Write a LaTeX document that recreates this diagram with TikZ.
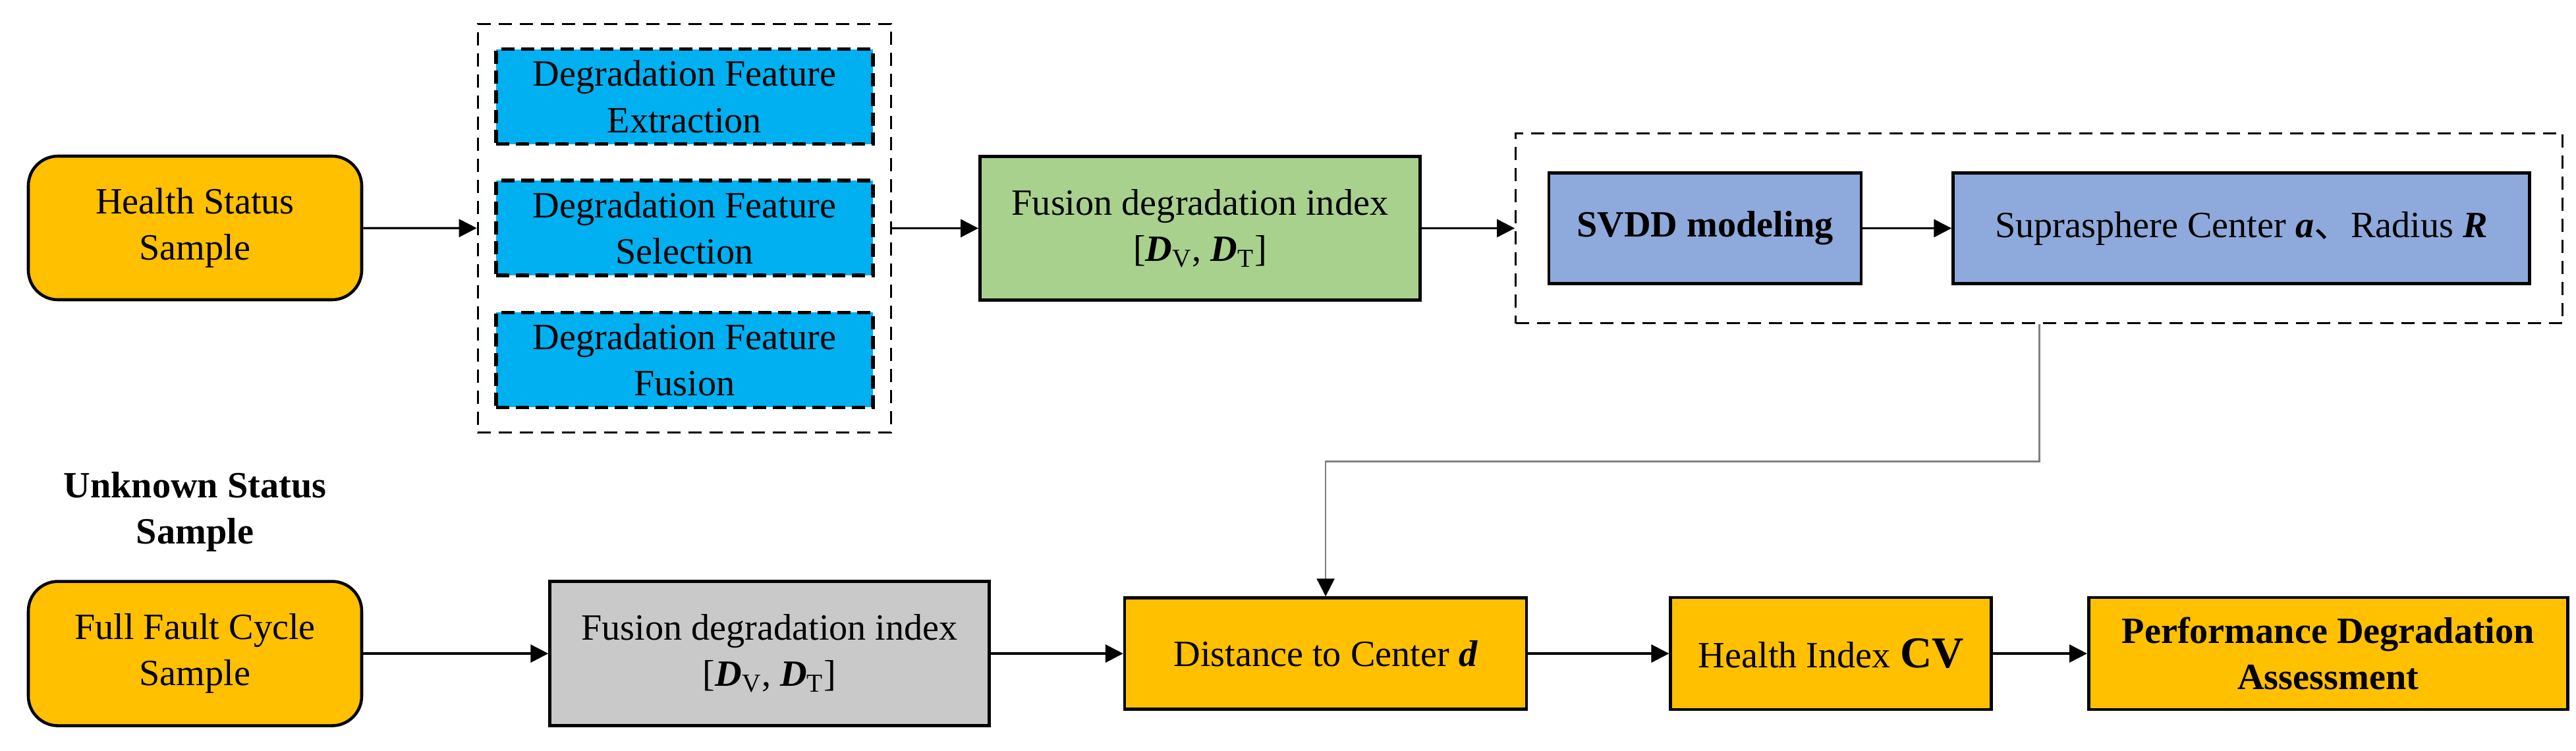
\documentclass[tikz,border=0pt]{standalone}
\usepackage{fontspec}
\setmainfont{Liberation Serif}
\newfontfamily\cjk{Noto Sans CJK SC}
\usetikzlibrary{positioning, fit, arrows.meta}
\definecolor{boxgold}{HTML}{FFC000}
\definecolor{boxcyan}{HTML}{00B0F0}
\definecolor{boxgreen}{HTML}{A9D18E}
\definecolor{boxblue}{HTML}{8EA9DB}
\definecolor{boxgray}{HTML}{C9C9C9}

\begin{document}
\begin{tikzpicture}[font=\fontsize{16}{20}\selectfont,
    rect/.style={rectangle, draw, line width=1.3pt, align=center, inner sep=0pt},
    rnd/.style={rect, rounded corners=0.45cm},
    featbox/.style={rect, dash pattern=on 0.2cm off 0.1cm, line width=1.5pt, fill=boxcyan, minimum width=5.72cm, minimum height=1.44cm},
    grp/.style={draw, line width=0.9pt, dash pattern=on 0.2cm off 0.12cm},
    arr/.style={draw, line width=0.9pt, -{Triangle[length=0.27cm, width=0.27cm]}},
    fb/.style={draw, line width=0.7pt, color=gray, -{Triangle[length=0.27cm, width=0.27cm, color=black]}}]

        \useasboundingbox (0,0) rectangle (39.10,11.39);

        % training branch
        \node[rnd, fill=boxgold, minimum width=5.06cm, minimum height=2.18cm] (health) at (2.96,7.93) {Health Status\\Sample};
        \node[featbox, right=1.99cm of health] (sel) {Degradation Feature\\Selection};
        \node[featbox, above=0.5cm of sel] (ext) {Degradation Feature\\Extraction};
        \node[featbox, below=0.51cm of sel] (fus) {Degradation Feature\\Fusion};
        \node[grp, fit=(ext) (sel) (fus), inner xsep=0.25cm, inner ysep=0.36cm] (featgrp) {};
        \node[rect, right=1.31cm of featgrp, fill=boxgreen, minimum width=6.68cm, minimum height=2.18cm] (fdiA) {Fusion degradation index\\{}[\textbf{\textit{D}}\textsubscript{V}, \textbf{\textit{D}}\textsubscript{T}]};
        \node[rect, right=1.91cm of fdiA, fill=boxblue, minimum width=4.74cm, minimum height=1.68cm] (svdd) {\textbf{SVDD modeling}};
        \node[rect, right=1.35cm of svdd, fill=boxblue, minimum width=8.75cm, minimum height=1.68cm] (supra) {Suprasphere Center \textbf{\textit{a}}{\cjk 、}Radius \textbf{\textit{R}}};
        \node[grp, fit=(svdd) (supra), inner xsep=0.48cm, inner ysep=0.58cm] (svddgrp) {};

        % assessment branch
        \node[rnd, below=4.23cm of health, fill=boxgold, minimum width=5.06cm, minimum height=2.19cm] (full) {Full Fault Cycle\\Sample};
        \node[above=0.3cm of full, align=center] (unknown) {\textbf{Unknown Status}\\\textbf{Sample}};
        \node[rect, right=2.81cm of full, fill=boxgray, minimum width=6.67cm, minimum height=2.19cm] (fdiB) {Fusion degradation index\\{}[\textbf{\textit{D}}\textsubscript{V}, \textbf{\textit{D}}\textsubscript{T}]};
        \node[rect, right=2.01cm of fdiB, fill=boxgold, minimum width=6.1cm, minimum height=1.69cm] (dist) {Distance to Center \textbf{\textit{d}}};
        \node[rect, right=2.14cm of dist, fill=boxgold, minimum width=4.87cm, minimum height=1.7cm] (hidx) {Health Index {\fontsize{19}{20}\selectfont\textbf{CV}}};
        \node[rect, right=1.43cm of hidx, fill=boxgold, minimum width=7.27cm, minimum height=1.7cm] (perf) {\textbf{Performance Degradation}\\\textbf{Assessment}};
        \coordinate[below=2.08cm of svddgrp.south] (turn);

        \path[arr] (health) -- (featgrp);
        \path[arr] (featgrp) -- (fdiA);
        \path[arr] (fdiA) -- (svddgrp);
        \path[arr] (svdd) -- (supra);
        \path[fb] (svddgrp.south) -- (turn) -| (dist);
        \path[arr] (full) -- (fdiB);
        \path[arr] (fdiB) -- (dist);
        \path[arr] (dist) -- (hidx);
        \path[arr] (hidx) -- (perf);
\end{tikzpicture}
\end{document}
